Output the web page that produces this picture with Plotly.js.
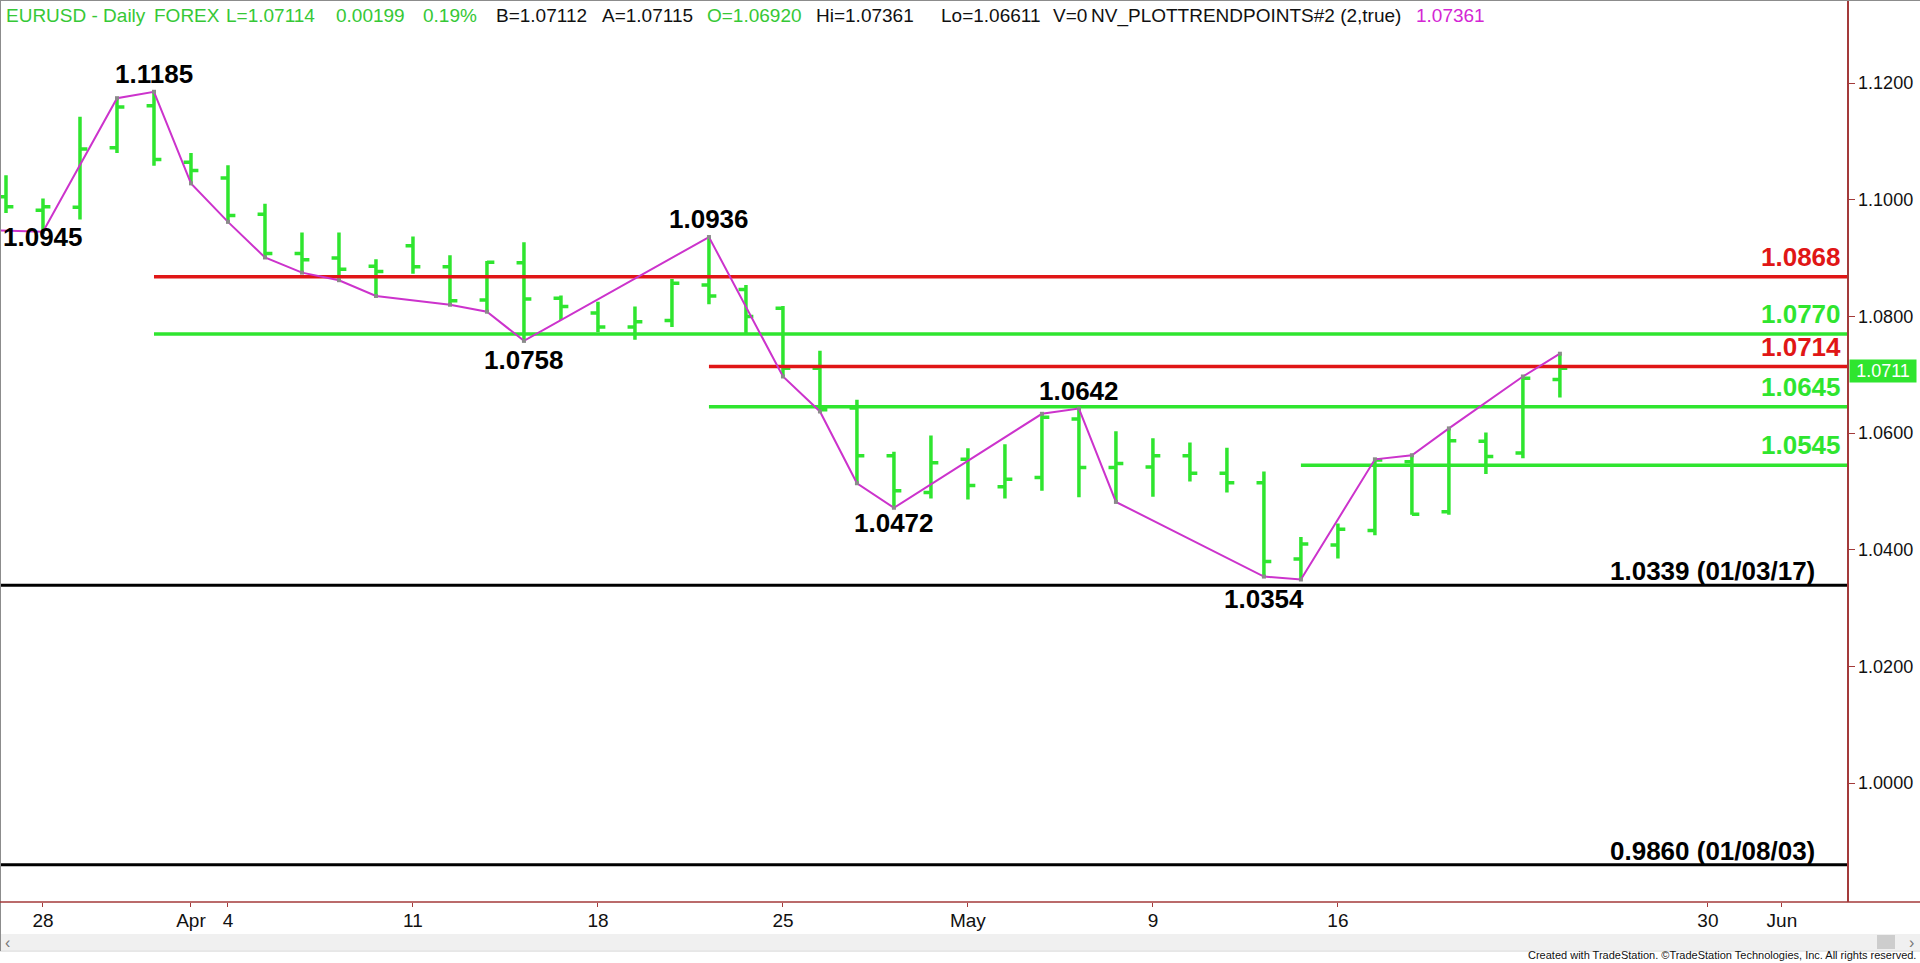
<!DOCTYPE html>
<html>
<head>
<meta charset="utf-8">
<script src="https://cdn.plot.ly/plotly-3.0.1.min.js"></script>
<style>
  html, body { margin: 0; padding: 0; background: #ffffff; }
  #chart { width: 1920px; height: 963px; }
</style>
</head>
<body>
<div id="chart"></div>
<script>
// ---------------- DATA ----------------
const barDates = ['2022-03-25','2022-03-28','2022-03-29','2022-03-30','2022-03-31','2022-04-01',
  '2022-04-04','2022-04-05','2022-04-06','2022-04-07','2022-04-08',
  '2022-04-11','2022-04-12','2022-04-13','2022-04-14','2022-04-15',
  '2022-04-18','2022-04-19','2022-04-20','2022-04-21','2022-04-22',
  '2022-04-25','2022-04-26','2022-04-27','2022-04-28','2022-04-29',
  '2022-05-02','2022-05-03','2022-05-04','2022-05-05','2022-05-06',
  '2022-05-09','2022-05-10','2022-05-11','2022-05-12','2022-05-13',
  '2022-05-16','2022-05-17','2022-05-18','2022-05-19','2022-05-20',
  '2022-05-23','2022-05-24'];
const openVals  = [1.1005,1.0982,1.0987,1.1089,1.1161,1.1064, 1.1037,1.0975,1.0908,1.0900,1.0886,
  1.0921,1.0885,1.0828,1.0892,1.0831, 1.0806,1.0782,1.0793,1.0854,1.0846,
  1.0814,1.0711,1.0643,1.0561,1.0498, 1.0555,1.0508,1.0524,1.0624,1.0541,
  1.0542,1.0561,1.0531,1.0515,1.0384, 1.0408,1.0433,1.0551,1.0465,1.0586, 1.0566,1.0692];
const highVals  = [1.1042,1.1002,1.1142,1.1174,1.1185,1.1080, 1.1059,1.0993,1.0944,1.0944,1.0898,
  1.0937,1.0905,1.0895,1.0927,1.0836, 1.0825,1.0817,1.0864,1.0936,1.0854,
  1.0818,1.0741,1.0657,1.0568,1.0596, 1.0574,1.0581,1.0633,1.0642,1.0603,
  1.0591,1.0584,1.0575,1.0534,1.0422, 1.0445,1.0555,1.0562,1.0608,1.0601, 1.0697,1.0736];
const lowVals   = [1.0977,1.0945,1.0966,1.1080,1.1058,1.1028, 1.0962,1.0901,1.0875,1.0862,1.0835,
  1.0873,1.0820,1.0808,1.0758,1.0794, 1.0773,1.0760,1.0782,1.0821,1.0771,
  1.0697,1.0637,1.0514,1.0472,1.0488, 1.0486,1.0488,1.0501,1.0490,1.0482,
  1.0491,1.0517,1.0498,1.0354,1.0349, 1.0385,1.0425,1.0460,1.0460,1.0530, 1.0557,1.0661];
const closeVals = [1.0988,1.0988,1.1087,1.1159,1.1069,1.1050, 1.0973,1.0908,1.0897,1.0881,1.0877,
  1.0885,1.0827,1.0893,1.0830,1.0817, 1.0782,1.0791,1.0857,1.0835,1.0800,
  1.0711,1.0640,1.0561,1.0501,1.0549, 1.0510,1.0521,1.0627,1.0541,1.0548,
  1.0561,1.0531,1.0515,1.0380,1.0410, 1.0435,1.0554,1.0461,1.0587,1.0560, 1.0694,1.0711];

// NV_PLOTTRENDPOINTS swing line
const swingDates = ['2022-03-24','2022-03-28','2022-03-30','2022-03-31','2022-04-01','2022-04-04',
  '2022-04-05','2022-04-06','2022-04-07','2022-04-08','2022-04-12','2022-04-13','2022-04-14',
  '2022-04-21','2022-04-25','2022-04-26','2022-04-27','2022-04-28','2022-05-04','2022-05-05',
  '2022-05-06','2022-05-12','2022-05-13','2022-05-17','2022-05-18','2022-05-19','2022-05-23','2022-05-24'];
const swingVals = [1.0949,1.0945,1.1174,1.1185,1.1028,1.0962,
  1.0901,1.0875,1.0862,1.0835,1.0820,1.0808,1.0758,
  1.0936,1.0697,1.0637,1.0514,1.0472,1.0633,1.0642,
  1.0482,1.0354,1.0349,1.0555,1.0562,1.0608,1.0697,1.0736];

// labelled pivots
const pivotDates = ['2022-03-28','2022-03-31','2022-04-14','2022-04-21','2022-04-28','2022-05-05','2022-05-12'];
const pivotVals  = [1.0945,1.1185,1.0758,1.0936,1.0472,1.0642,1.0354];
const pivotSide  = ['low','high','low','high','low','high','low'];

// horizontal levels
const levelVals  = [1.0868,1.0770,1.0714,1.0645,1.0545,1.0339,0.9860];
const levelKind  = ['resistance','support','resistance','support','support','history','history'];
const levelFrom  = ['2022-03-31','2022-03-31','2022-04-21','2022-04-21','2022-05-13',null,null];
const levelNote  = ['','','','','','01/03/17','01/08/03'];

// axis ticks
const xTickDates = ['2022-03-28','2022-04-01','2022-04-04','2022-04-11','2022-04-18','2022-04-25',
  '2022-05-02','2022-05-09','2022-05-16','2022-05-30','2022-06-01'];
const xTickText  = ['28','Apr','4','11','18','25','May','9','16','30','Jun'];
const yTickVals  = [1.00,1.02,1.04,1.06,1.08,1.10,1.12];

// header
const headerText  = ['EURUSD - Daily','FOREX','L=1.07114','0.00199','0.19%','B=1.07112','A=1.07115',
  'O=1.06920','Hi=1.07361','Lo=1.06611','V=0','NV_PLOTTRENDPOINTS#2 (2,true)','1.07361'];
const headerTone  = ['green','green','green','green','green','black','black',
  'green','black','black','black','black','magenta'];

// ---------------- STYLE ----------------
const headerX = [4, 152, 224, 334, 421, 494, 600, 705, 814, 939, 1051, 1089, 1414];
const W = 1920, H = 963;
const M = {l:1, r:73, t:1, b:61};
const PW = W - M.l - M.r, PH = H - M.t - M.b;
const GREEN = '#2fe52f', RED = '#e01616', BLACK = '#000000', MAG = '#cc33cc', AXIS = '#a33a3a';
const kindColor = {resistance: RED, support: GREEN, history: BLACK};
const textColor = {green:'#36c836', black:'#111111', magenta:'#d426d4'};
const SANS = '"Liberation Sans", Arial, sans-serif';
const pxX = p => (p - M.l) / PW;          // pixel -> paper x
const pxY = p => (H - M.b - p) / PH;      // pixel -> paper y

// session calendar (weekdays) that the numeric x axis counts in
const sessions = [];
(function(){
  const d = new Date(Date.UTC(2022,2,24));
  const end = new Date(Date.UTC(2022,5,6));
  while (d <= end) {
    const wd = d.getUTCDay();
    if (wd !== 0 && wd !== 6) sessions.push(d.toISOString().slice(0,10));
    d.setUTCDate(d.getUTCDate()+1);
  }
})();
const ix = d => sessions.indexOf(d);
const xr = [0.865, 50.76];

const traces = [];
// levels
levelVals.forEach((v,i) => {
  const x0 = levelFrom[i] ? ix(levelFrom[i]) : xr[0] - 1;
  traces.push({type:'scatter', mode:'lines', x:[x0, xr[1]+1], y:[v,v],
    line:{color:kindColor[levelKind[i]], width: levelKind[i]==='history'?3:3.5},
    hoverinfo:'skip'});
});
// bars
traces.push({type:'ohlc', x: barDates.map(ix), open: openVals, high: highVals, low: lowVals, close: closeVals,
  increasing:{line:{color:GREEN, width:3.5}}, decreasing:{line:{color:GREEN, width:3.5}},
  tickwidth:0.2, hoverinfo:'skip'});
// swing line
traces.push({type:'scatter', mode:'lines+markers', x: swingDates.map(ix), y: swingVals,
  line:{color:MAG, width:2}, marker:{color:'#8a8a8a', size:4, symbol:'square'}, hoverinfo:'skip'});

const annotations = [];
// pivot labels (vertical nudges per label, px)
const pivotNudge = [12, 1, -2, 1, 2, 1, -5];
pivotDates.forEach((d,i) => {
  const hi = pivotSide[i] === 'high';
  annotations.push({xref:'x', yref:'y', x: ix(d), y: pivotVals[i], text: pivotVals[i].toFixed(4),
    showarrow:false, xanchor:'center', yanchor: hi?'bottom':'top', yshift: pivotNudge[i],
    font:{family:SANS, size:26, color:'#000', weight:'bold'}});
});
// level labels
levelVals.forEach((v,i) => {
  const hist = levelKind[i]==='history';
  annotations.push({xref:'paper', yref:'y', x: pxX(hist?1817:1843), y: v,
    text: v.toFixed(4) + (levelNote[i] ? ' (' + levelNote[i] + ')' : ''),
    showarrow:false, xanchor:'right', yanchor:'bottom', yshift: hist? -3 : 3,
    font:{family:SANS, size:26, color: kindColor[levelKind[i]], weight:'bold'}});
});
// last price tag
annotations.push({xref:'paper', yref:'y', x: pxX(1849), y: closeVals[closeVals.length-1],
  text: closeVals[closeVals.length-1].toFixed(4), showarrow:false, xanchor:'left', yanchor:'middle',
  yshift:-3, bgcolor: GREEN, borderpad:1, width:64, height:20, font:{family:SANS, size:18, color:'#ffffff'}});
// header
headerText.forEach((t,i) => {
  annotations.push({xref:'paper', yref:'paper', x: pxX(headerX[i]), y: pxY(3), text: t,
    showarrow:false, xanchor:'left', yanchor:'top',
    font:{family:SANS, size:19, color: textColor[headerTone[i]]}});
});
// footer
annotations.push({xref:'paper', yref:'paper', x: pxX(1918), y: pxY(963), text:'Created with TradeStation. ©TradeStation Technologies, Inc. All rights reserved.',
  showarrow:false, xanchor:'right', yanchor:'bottom', font:{family:SANS, size:11, color:'#111'}});
annotations.push({xref:'paper', yref:'paper', x: pxX(3), y: pxY(942), text:'‹', showarrow:false,
  xanchor:'left', yanchor:'middle', font:{family:SANS, size:16, color:'#777'}});
annotations.push({xref:'paper', yref:'paper', x: pxX(1916), y: pxY(942), text:'›', showarrow:false,
  xanchor:'right', yanchor:'middle', font:{family:SANS, size:16, color:'#777'}});

const shapes = [
  // scrollbar band
  {type:'rect', xref:'paper', yref:'paper', x0: pxX(0), x1: pxX(1920), y0: pxY(934), y1: pxY(950),
    fillcolor:'#f0f0f0', line:{width:0}, layer:'below'},
  {type:'rect', xref:'paper', yref:'paper', x0: pxX(1877), x1: pxX(1895), y0: pxY(935), y1: pxY(949),
    fillcolor:'#cdcdcd', line:{width:0}},
  {type:'line', xref:'paper', yref:'paper', x0: pxX(0), x1: pxX(1920), y0: pxY(951), y1: pxY(951),
    line:{color:'#d0d0d0', width:1}},
  // frame
  {type:'line', xref:'paper', yref:'paper', x0: pxX(0), x1: pxX(1920), y0: pxY(0.5), y1: pxY(0.5),
    line:{color:'#8c8c8c', width:1}},
  {type:'line', xref:'paper', yref:'paper', x0: pxX(0.5), x1: pxX(0.5), y0: pxY(0), y1: pxY(951),
    line:{color:'#8c8c8c', width:1}},
  // time axis line across whole width
  {type:'line', xref:'paper', yref:'paper', x0: pxX(0), x1: pxX(1920), y0: 0, y1: 0,
    line:{color:AXIS, width:1.5}}
];

const layout = {
  width: W, height: H, margin: {l:M.l, r:M.r, t:M.t, b:M.b, pad:0},
  paper_bgcolor:'#ffffff', plot_bgcolor:'#ffffff', showlegend:false,
  xaxis: {type:'linear', range: xr, showgrid:false, zeroline:false, showline:false,
    tickmode:'array', tickvals: xTickDates.map(ix), ticktext: xTickText,
    ticks:'outside', ticklen:4, tickcolor: AXIS, tickwidth:1, ticklabelstandoff:-3,
    tickfont:{family:SANS, size:19, color:'#111'}, rangeslider:{visible:false}, fixedrange:true},
  yaxis: {side:'right', range:[0.97962, 1.13406], showgrid:false, zeroline:false,
    showline:true, linecolor:AXIS, linewidth:1.5,
    tickmode:'array', tickvals: yTickVals, tickformat:'.4f',
    ticks:'outside', ticklen:6, tickcolor: AXIS, tickwidth:1,
    tickfont:{family:SANS, size:18, color:'#111'}, fixedrange:true},
  annotations, shapes
};

Plotly.newPlot('chart', traces, layout, {displayModeBar:false, staticPlot:true});
</script>
</body>
</html>
